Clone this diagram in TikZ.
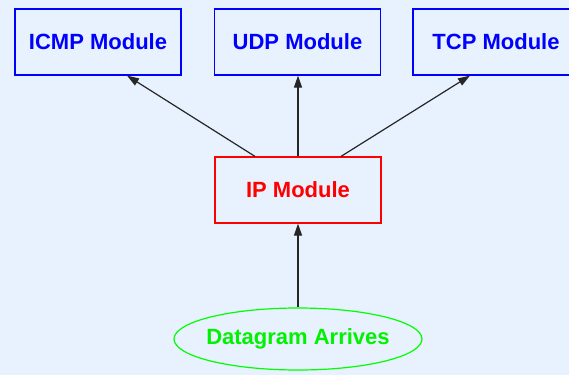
\documentclass[tikz,border=0pt]{standalone}
\usepackage{fontspec}
\setmainfont{Liberation Sans}
\usepackage{xcolor}
\usetikzlibrary{arrows.meta,shapes.geometric}
\definecolor{bgblue}{RGB}{232,241,254}

\begin{document}
\begin{tikzpicture}[x=1pt,y=-1pt,
    module/.style={rectangle,draw,line width=1.2pt,minimum width=166pt,minimum height=66pt,
      font=\fontsize{22}{26}\selectfont\bfseries},
    arr/.style={-{Triangle[length=12pt,width=8pt]},line width=1.2pt,black!85}]
    \useasboundingbox[fill=bgblue] (0,0) rectangle (569,375);
    \node [module,draw=blue,text=blue] (icmp) at (98,42) {ICMP Module};
    \node [module,draw=blue,text=blue] (udp) at (297.5,42) {UDP Module};
    \node [module,draw=blue,text=blue] (tcp) at (496,42) {TCP Module};
    \node [module,draw=red,text=red] (ip) at (298,190) {IP Module};
    \node [ellipse,draw=green,text=green!95!black,line width=1.2pt,inner xsep=-6pt,inner ysep=0pt,
      minimum width=248pt,minimum height=62pt,
      font=\fontsize{22}{26}\selectfont\bfseries] (dgram) at (298,339) {Datagram Arrives};
    \draw [arr] ([xshift=-43pt]ip.north) -- ([xshift=29pt]icmp.south);
    \draw [arr] (ip.north) -- (ip.north |- udp.south);
    \draw [arr] ([xshift=43pt]ip.north) -- ([xshift=-26pt]tcp.south);
    \draw [arr] (dgram) -- (ip);
\end{tikzpicture}
\end{document}
